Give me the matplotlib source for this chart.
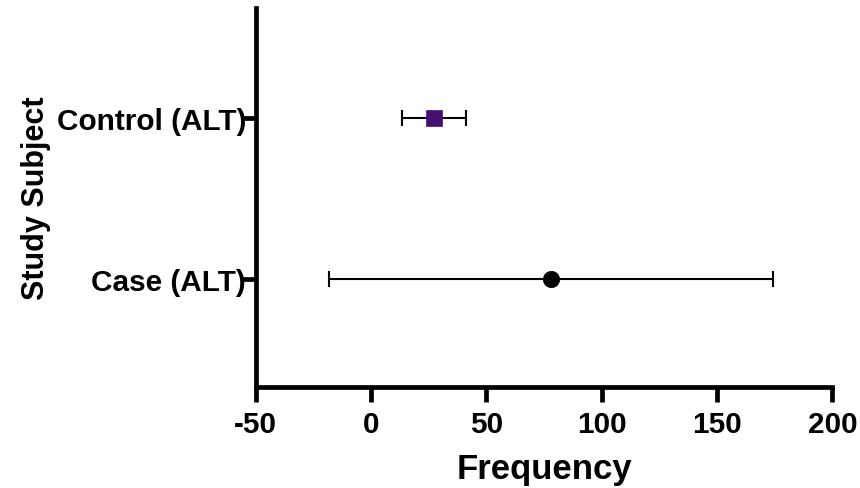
import matplotlib.pyplot as plt
import numpy as np

# mean +/- SD per group
subjects = ['Case (ALT)', 'Control (ALT)']
means = [78.0, 27.3]
sds = [96.3, 13.8]
markers = ['o', 's']
colors = ['#000000', '#450f6f']

x_ticks = [-50, 0, 50, 100, 150, 200]

plt.rcParams['font.family'] = ['Liberation Sans', 'DejaVu Sans']
plt.rcParams['font.weight'] = 'bold'

fig = plt.figure(figsize=(8.6, 4.89), dpi=100)
ax = fig.add_axes([0.2974, 0.2072, 0.6706, 0.7744])

ypos = np.arange(len(subjects)) + 1
for y, m, s, mk, c in zip(ypos, means, sds, markers, colors):
    ax.errorbar(m, y, xerr=s, fmt='none', ecolor='black',
                elinewidth=1.5, capsize=5.8, capthick=1.5, zorder=2)
    ax.plot(m, y, marker=mk, color=c, markersize=11.8,
            markeredgecolor=c, markeredgewidth=0.5, zorder=3)

ax.set_xlim(-50, 200)
ax.set_ylim(0.33, 2.685)
ax.set_xticks(x_ticks)
ax.set_xticklabels([str(v) for v in x_ticks])
ax.set_yticks(ypos)
ax.set_yticklabels(subjects)

for side in ['top', 'right']:
    ax.spines[side].set_visible(False)
for side in ['left', 'bottom']:
    ax.spines[side].set_linewidth(3.4)

ax.tick_params(axis='x', length=11, width=3.4, pad=6, labelsize=21.4)
ax.tick_params(axis='y', length=10, width=3.4, pad=-3, labelsize=21.4)

ax.set_xlabel('Frequency', fontsize=25, fontweight='bold', labelpad=10)
ax.set_ylabel('Study Subject', fontsize=22, fontweight='bold')
ax.yaxis.set_label_coords(-0.355, 0.5)

fig.savefig('out.png', dpi=100)
